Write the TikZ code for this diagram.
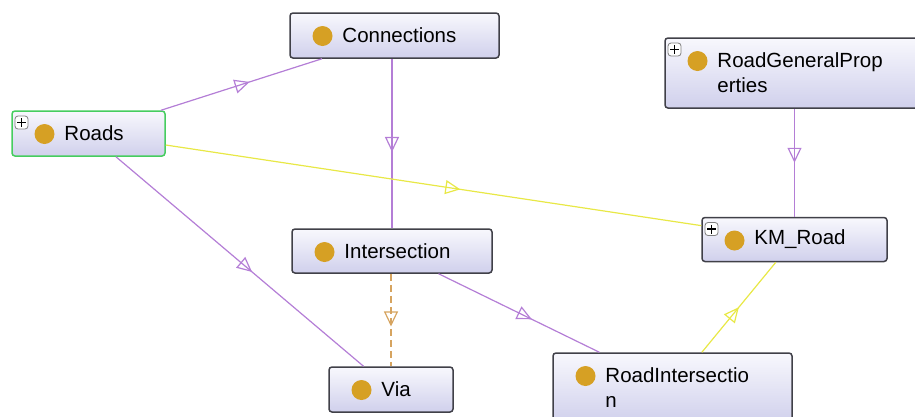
\documentclass[tikz,border=0pt]{standalone}
\usepackage{fontspec}
\setmainfont{Liberation Sans}
\usepackage{xcolor}
\usetikzlibrary{arrows.meta, decorations.markings}

\definecolor{boxtop}{RGB}{248,248,253}
\definecolor{boxbot}{RGB}{208,208,236}
\definecolor{boxline}{RGB}{64,64,72}
\definecolor{selgreen}{RGB}{70,205,95}
\definecolor{dotgold}{RGB}{214,160,36}
\definecolor{isaline}{RGB}{180,126,214}
\definecolor{propline}{RGB}{232,232,70}
\definecolor{instline}{RGB}{214,164,96}

\newcommand{\classdot}{\fill[dotgold] ([shift={(32.5pt,-23pt)}]path picture bounding box.north west) circle (10pt);}
\newcommand{\expandbox}{%
  \draw[gray, line width=0.8pt, fill=white] ([shift={(3pt,-5pt)}]path picture bounding box.north west) rectangle +(13pt,-13pt);
  \draw[black, line width=1.1pt] ([shift={(5pt,-11.5pt)}]path picture bounding box.north west) -- +(9pt,0pt)
    ([shift={(9.5pt,-7pt)}]path picture bounding box.north west) -- +(0pt,-9pt);}

\begin{document}
\begin{tikzpicture}[x=1pt, y=-1pt,
  cls/.style={rectangle, rounded corners=3pt, draw=boxline, line width=1.5pt, top color=boxtop, bottom color=boxbot, inner sep=0pt, path picture={\classdot}},
  clsplus/.style={cls, path picture={\classdot\expandbox}},
  clsname/.style={anchor=west, xshift=53pt, inner sep=0pt, align=left, font=\fontsize{20.5}{25}\selectfont},
  link/.style={line width=1.2pt, postaction={decorate}, decoration={markings, mark=at position #1 with {\pgfsetdash{}{0pt}\arrow{Triangle[open, length=15pt, width=14pt]}}}},
  link/.default=0.55,
  isa/.style={link=#1, color=isaline},
  isa/.default=0.55,
  prop/.style={link=#1, color=propline},
  prop/.default=0.55,
  inst/.style={link=#1, color=instline, dash pattern=on 7pt off 4pt},
  inst/.default=0.57
]
\useasboundingbox (0,0) rectangle (915,416);
\clip (0,0) rectangle (915,416);

\node[cls, minimum width=209pt, minimum height=45pt, label={[clsname]west:Connections}] (conn) at (394.5,35.5) {};
\node[clsplus, draw=selgreen, minimum width=153pt, minimum height=45pt, label={[clsname]west:Roads}] (roads) at (88.5,133.5) {};
\node[clsplus, minimum width=260pt, minimum height=70pt, label={[clsname]west:{RoadGeneralProp\\erties}}] (rgp) at (795,73) {};
\node[clsplus, minimum width=185pt, minimum height=44pt, label={[clsname]west:KM\_Road}] (km) at (794.5,239.5) {};
\node[cls, minimum width=200pt, minimum height=44pt, label={[clsname]west:Intersection}] (inter) at (392,251) {};
\node[cls, minimum width=124pt, minimum height=45pt, label={[clsname]west:Via}] (via) at (391,389.5) {};
\node[cls, minimum width=239pt, minimum height=70pt, label={[clsname]west:{RoadIntersectio\\n}}] (ri) at (672.5,388) {};

\draw[isa] (roads) -- (conn);
\draw[isa] (inter.north |- conn.south) -- (inter.north);
\draw[isa] (roads) -- (via);
\draw[prop] (roads) -- (km);
\draw[isa=0.5] (km.north |- rgp.south) -- (km.north);
\draw[inst] (via.north |- inter.south) -- (via.north);
\draw[isa=0.58] (inter) -- (ri);
\draw[prop=0.5] (ri) -- (km);
\end{tikzpicture}
\end{document}
